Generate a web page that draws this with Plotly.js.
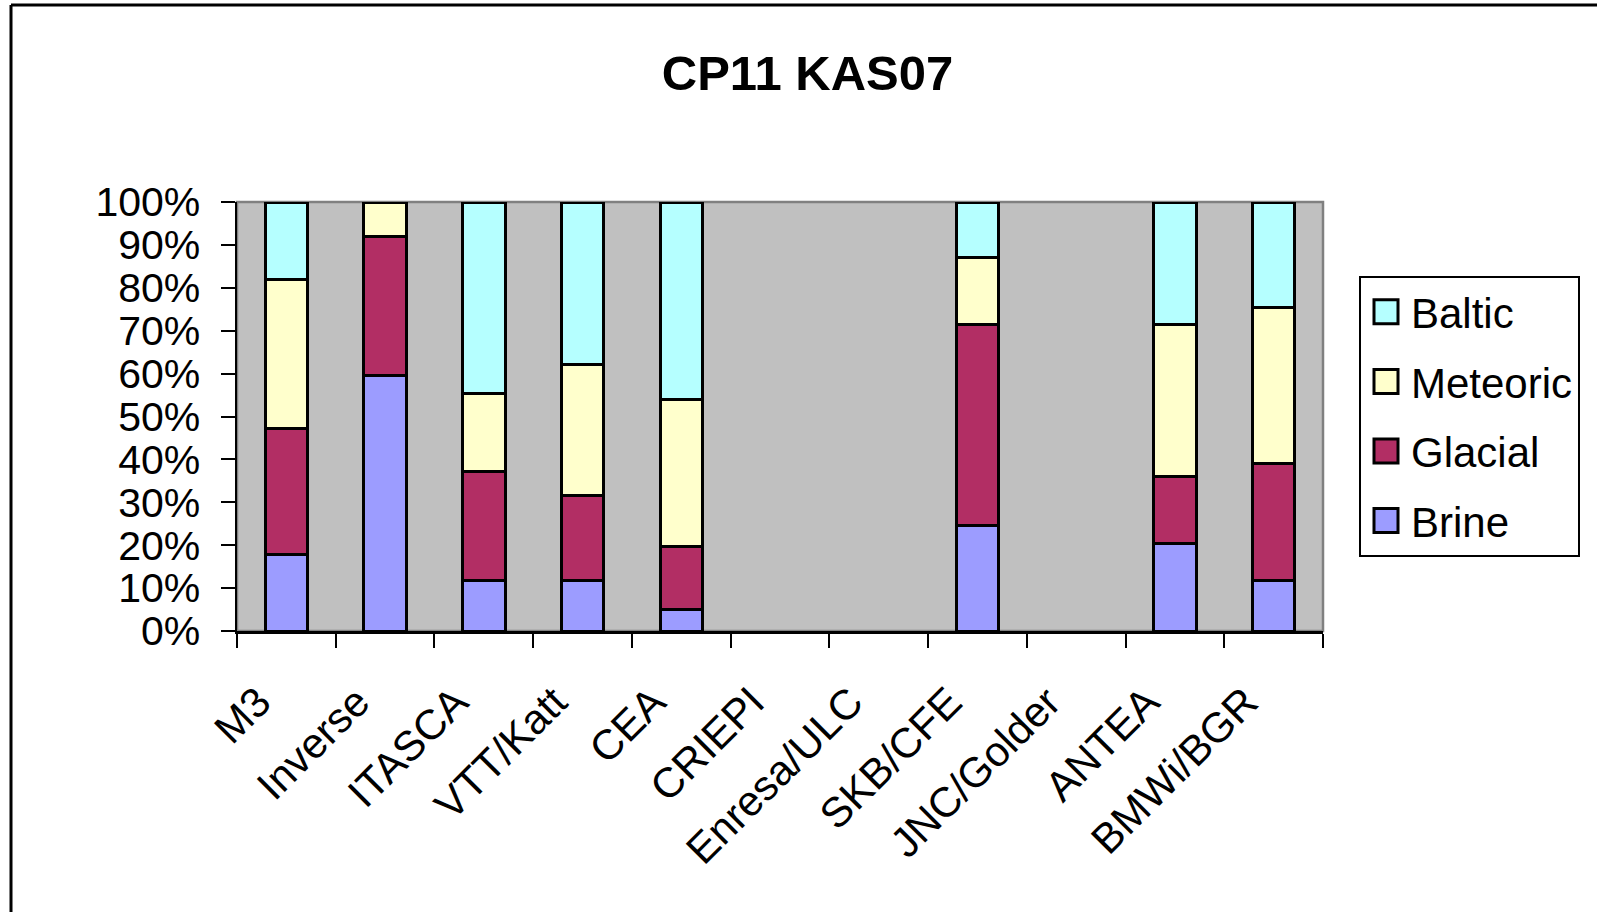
<!DOCTYPE html>
<html>
<head>
<meta charset="utf-8">
<script src="https://cdn.plot.ly/plotly-3.0.1.min.js"></script>
<style>
  html, body { margin: 0; padding: 0; background: #ffffff; overflow: hidden; }
  #chart { width: 1597px; height: 912px; }
</style>
</head>
<body>
<div id="chart"></div>
<script>
const categories = ['M3', 'Inverse', 'ITASCA', 'VTT/Katt', 'CEA', 'CRIEPI', 'Enresa/ULC', 'SKB/CFE', 'JNC/Golder', 'ANTEA', 'BMWi/BGR'];
const brine    = [17.8, 59.6, 11.7, 11.7,  5.0, null, null, 24.7, null, 20.5, 11.7];
const glacial  = [29.3, 32.3, 25.4, 19.9, 14.8, null, null, 46.7, null, 15.5, 27.4];
const meteoric = [34.9,  8.1, 18.2, 30.5, 34.2, null, null, 15.6, null, 35.4, 36.2];
const baltic   = [18.0, null, 44.7, 37.9, 46.0, null, null, 13.0, null, 28.6, 24.7];

const seriesNames = ['Brine', 'Glacial', 'Meteoric', 'Baltic'];
const seriesValues = [brine, glacial, meteoric, baltic];
const seriesColors = ['#9C9CFF', '#B22E64', '#FFFFCC', '#B5FFFF'];
const legendRanks = [4, 3, 2, 1];

const FONT = 'Liberation Sans, Arial, Helvetica, sans-serif';
const W = 1597, H = 912;
const M = { l: 237, r: 274, t: 202, b: 281 };
const pw = W - M.l - M.r, ph = H - M.t - M.b;
const px = v => (v - M.l) / pw;      // pixel x -> paper x
const py = v => (H - M.b - v) / ph;  // pixel y -> paper y

const traces = seriesNames.map((name, i) => ({
  type: 'bar',
  name: name,
  legendgroup: name,
  legendrank: legendRanks[i],
  x: categories,
  y: seriesValues[i],
  marker: { color: seriesColors[i], line: { color: '#000000', width: 3 } },
  hoverinfo: 'x+y+name'
}));

const layout = {
  width: W, height: H,
  margin: M,
  paper_bgcolor: '#ffffff',
  plot_bgcolor: '#C0C0C0',
  barmode: 'stack',
  bargap: 0.57,
  showlegend: true,
  title: {
    text: 'CP11 KAS07',
    font: { family: FONT, size: 49, color: '#000000', weight: 'bold' },
    x: 807.5 / W, xref: 'container', xanchor: 'center',
    y: 1 - 73 / H, yref: 'container', yanchor: 'middle'
  },
  font: { family: FONT, color: '#000000' },
  xaxis: {
    type: 'category',
    tickangle: -45,
    tickfont: { family: FONT, size: 42, color: '#000000' },
    showline: true, linecolor: '#000000', linewidth: 2.5,
    ticks: 'outside', tickson: 'boundaries', ticklen: 14, tickwidth: 2, tickcolor: '#000000',
    showgrid: false, zeroline: false,
    ticklabelstandoff: 27,
    ticklabelshift: -28
  },
  yaxis: {
    range: [0, 100],
    dtick: 10,
    tick0: 0,
    ticksuffix: '%',
    tickfont: { family: FONT, size: 41, color: '#000000' },
    showline: true, linecolor: '#000000', linewidth: 2.5,
    ticks: 'outside', ticklen: 14, tickwidth: 2, tickcolor: '#000000',
    showgrid: false, zeroline: false,
    ticklabelstandoff: 12
  },
  legend: {
    x: px(1359), y: py(276), xanchor: 'left', yanchor: 'top',
    bgcolor: '#ffffff', bordercolor: '#000000', borderwidth: 2,
    font: { family: FONT, size: 42, color: '#000000' },
    traceorder: 'grouped',
    tracegroupgap: 12,
    itemwidth: 40
  },
  shapes: [
    { type: 'rect', xref: 'paper', yref: 'paper', x0: 0, x1: 1, y0: 0, y1: 1,
      line: { color: '#808080', width: 2.5 }, layer: 'below' },
    { type: 'line', xref: 'paper', yref: 'paper', x0: px(11), x1: px(11), y0: py(5), y1: py(H + 10),
      line: { color: '#000000', width: 3 } },
    { type: 'line', xref: 'paper', yref: 'paper', x0: px(11), x1: px(W + 10), y0: py(5), y1: py(5),
      line: { color: '#000000', width: 3 } }
  ]
};

Plotly.newPlot('chart', traces, layout, { displayModeBar: false, staticPlot: true }).then(gd => {
  gd.querySelectorAll('.legend .legendpoints path').forEach(p => {
    p.setAttribute('d', 'M12,12H-12V-12H12Z');
    p.style.strokeWidth = '3px';
    p.style.stroke = '#000000';
  });
});
</script>
</body>
</html>
